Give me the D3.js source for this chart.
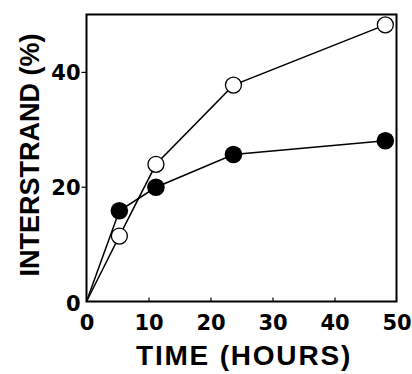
<!DOCTYPE html>
<html>
<head>
<meta charset="utf-8">
<script src="https://cdn.jsdelivr.net/npm/d3@7"></script>
<style>
  body { margin: 0; background: #fff; }
  svg { display: block; }
</style>
</head>
<body>
<div class="viz"></div>
<script>
// values
const hours = [0, 5.3, 11.2, 23.7, 48.2]
const openPct = [0, 11.4, 23.9, 37.7, 48.2]     // open circles
const filledPct = [0, 15.8, 19.9, 25.6, 28.0]   // filled circles
const xTicks = [0, 10, 20, 30, 40, 50]
const yTicks = [0, 20, 40]

const width = 412
const height = 374
const plotLeft = 86.5, plotRight = 396.5, plotTop = 14.5, plotBottom = 301.5

const svg = d3.select('.viz')
  .append('svg')
  .attr('width', width)
  .attr('height', height)

const x = d3.scaleLinear().domain([0, 50]).range([plotLeft, plotRight])
const y = d3.scaleLinear().domain([0, 50]).range([plotBottom, plotTop])

const tickFont = 'DejaVu Sans, sans-serif'
const titleFont = 'Liberation Sans, Arial, sans-serif'

// x axis: ticks point inward, labels below
const xAxis = svg.append('g')
  .attr('transform', `translate(0,${plotBottom})`)
  .call(d3.axisBottom(x).tickValues(xTicks).tickSize(-4).tickPadding(14).tickSizeOuter(0))
xAxis.select('.domain').remove()
xAxis.selectAll('line').attr('stroke', '#000').attr('stroke-width', 1.2)
  .filter(d => d === 0 || d === 50).remove()
xAxis.selectAll('text')
  .attr('font-family', tickFont).attr('font-weight', 'bold').attr('font-size', 21)
  .attr('fill', '#000').attr('dy', '0.71em')

// y axis: ticks point outward
const yAxis = svg.append('g')
  .attr('transform', `translate(${plotLeft},0)`)
  .call(d3.axisLeft(y).tickValues(yTicks).tickSize(5).tickPadding(1).tickSizeOuter(0))
yAxis.select('.domain').remove()
yAxis.selectAll('line').attr('stroke', '#000').attr('stroke-width', 1.2)
  .filter(d => d === 0).remove()
yAxis.selectAll('text')
  .attr('font-family', tickFont).attr('font-weight', 'bold').attr('font-size', 21)
  .attr('fill', '#000')
  .attr('dy', d => d === 0 ? '0.45em' : '0.36em')

// frame
svg.append('rect')
  .attr('x', plotLeft).attr('y', plotTop)
  .attr('width', plotRight - plotLeft).attr('height', plotBottom - plotTop)
  .attr('fill', 'none').attr('stroke', '#000').attr('stroke-width', 2)

const line = d3.line()
  .x(d => x(d[0]))
  .y(d => y(d[1]))

const openData = hours.map((h, i) => [h, openPct[i]])
const filledData = hours.map((h, i) => [h, filledPct[i]])

svg.append('path').datum(openData)
  .attr('d', line).attr('fill', 'none').attr('stroke', '#000').attr('stroke-width', 1.5)
svg.append('path').datum(filledData)
  .attr('d', line).attr('fill', 'none').attr('stroke', '#000').attr('stroke-width', 1.5)

svg.selectAll('.open')
  .data(openData.slice(1))
  .enter().append('circle')
  .attr('class', 'open')
  .attr('cx', d => x(d[0])).attr('cy', d => y(d[1]))
  .attr('r', 8)
  .attr('fill', '#fff').attr('stroke', '#000').attr('stroke-width', 1.3)

svg.selectAll('.filled')
  .data(filledData.slice(1))
  .enter().append('circle')
  .attr('class', 'filled')
  .attr('cx', d => x(d[0])).attr('cy', d => y(d[1]))
  .attr('r', 8.8)
  .attr('fill', '#000')

// axis titles
svg.append('text')
  .text('TIME (HOURS)')
  .attr('x', 244).attr('y', 365)
  .attr('text-anchor', 'middle')
  .attr('font-family', titleFont).attr('font-weight', 'bold')
  .attr('font-size', 28).attr('letter-spacing', 1.8)

svg.append('text')
  .text('INTERSTRAND (%)')
  .attr('transform', 'translate(39,155)rotate(-90)')
  .attr('text-anchor', 'middle')
  .attr('font-family', titleFont).attr('font-weight', 'bold')
  .attr('font-size', 27)
</script>
</body>
</html>
